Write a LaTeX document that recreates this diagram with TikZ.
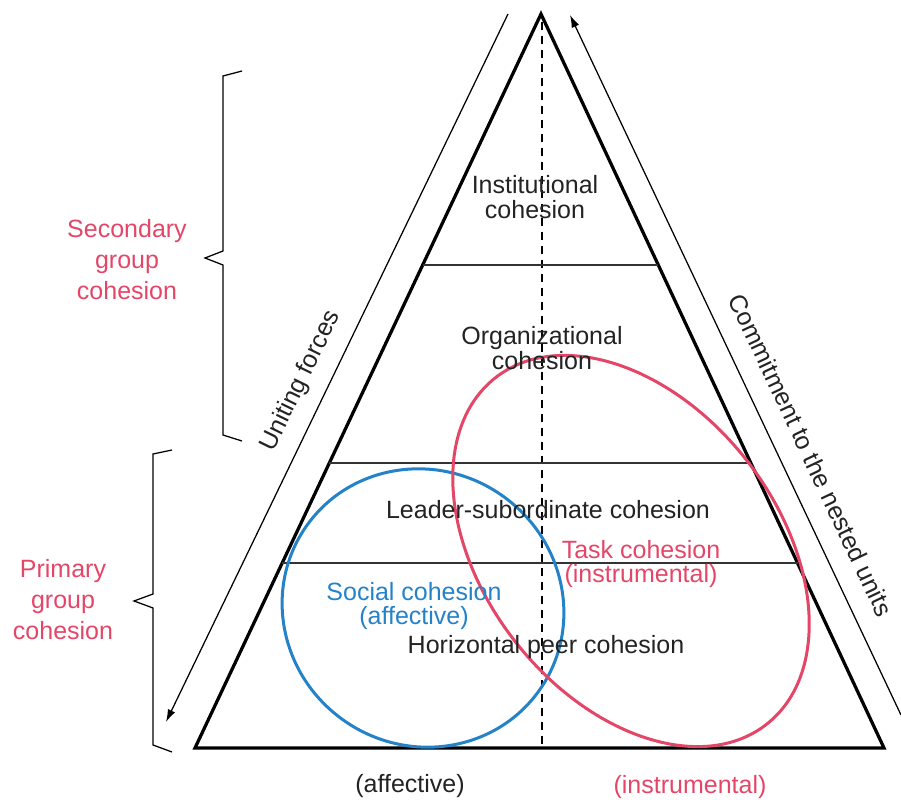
\documentclass[tikz,border=0pt]{standalone}
\usepackage{fontspec}
\setmainfont{Liberation Sans}
\usetikzlibrary{calc,shapes.geometric,arrows.meta}
\definecolor{taskred}{RGB}{228,70,104}
\definecolor{socialblue}{RGB}{36,130,200}
\definecolor{textgray}{RGB}{35,35,35}

\begin{document}
\begin{tikzpicture}[x=0.4pt,y=-0.4pt, font=\fontsize{10}{9.8}\selectfont, every node/.append style={text=textgray, align=center, inner sep=0pt}]
    \tikzstyle{side}=[line width=1.3pt, line join=miter]
    \tikzstyle{layer}=[line width=0.6pt, draw=black!80]
    \tikzstyle{axis}=[line width=0.9pt, dash pattern=on 3.2pt off 2.4pt]
    \tikzstyle{force}=[line width=0.5pt, -{Latex[length=5pt,width=3.2pt]}]
    \tikzstyle{bracket}=[line width=0.5pt]
    \tikzstyle{group label}=[text=taskred, font=\fontsize{10}{12.4}\selectfont]
    \tikzstyle{cohesion}=[ellipse, line width=1.2pt, minimum size=0pt, inner sep=0pt]

    \useasboundingbox (0,0) rectangle (901,800);

    % Draw the pyramid
    \coordinate (apex) at (541,14);
    \coordinate (baseL) at (195,748);
    \coordinate (baseR) at (884,748);
    \coordinate (midTop) at (542,22);
    \coordinate (midBot) at (542,748);
    \draw[axis] (midTop) -- (midBot);
    \draw[side] (apex) -- (baseL) -- (baseR) -- cycle;

    % Draw the layers
    \foreach \t/\n in {0.342/1,0.612/2,0.748/3} {
        \coordinate (L\n) at ($(apex)!\t!(baseL)$);
        \coordinate (R\n) at ($(apex)!\t!(baseR)$);
        \draw[layer] (L\n) -- (R\n);
    }

    % Draw the social and task ellipses
    \node[cohesion, draw=socialblue, minimum width=114pt, minimum height=110pt, rotate=-35] (social) at (423,608) {};
    \node[cohesion, draw=taskred, minimum width=176pt, minimum height=117.6pt, rotate=-52] (task) at (631,551) {};

    % Level labels
    \node (inst) at (535,197) {Institutional\\cohesion};
    \node (org) at (542,348) {Organizational\\cohesion};
    \node (leader) at (548,510) {Leader-subordinate cohesion};
    \node (peer) at (546,647) {Horizontal peer cohesion};
    \node[text=socialblue] (social-label) at (414,606) {Social cohesion\\(affective)};
    \node[text=taskred] (task-label) at (641,564) {Task cohesion\\(instrumental)};
    \node (affective) at (410,786) {(affective)};
    \node[text=taskred] (instrumental) at (690,787) {(instrumental)};

    % Forces along the sides
    \coordinate (ufTop) at (508,14);
    \coordinate (ufEnd) at (166,722);
    \coordinate (cmBot) at (901,715);
    \coordinate (cmTop) at (570,15);
    \draw[force] (ufTop) -- (ufEnd);
    \draw[force] (cmBot) -- (cmTop);
    \node[rotate=64] (uniting) at (301,381) {Uniting forces};
    \node[rotate=-64.7] (commitment) at (811,455) {Commitment to the nested units};

    % Group brackets
    \draw[bracket] (242,71) -- (223,76) -- (223,251) -- (205,258) -- (223,265) -- (223,435) -- (242,441);
    \draw[bracket] (172,450) -- (153,454) -- (153,594) -- (134,601) -- (153,608) -- (153,745) -- (172,752);
    \node[group label] (secondary) at (127,260) {Secondary\\group\\cohesion};
    \node[group label] (primary) at (63,600) {Primary\\group\\cohesion};

\end{tikzpicture}
\end{document}
